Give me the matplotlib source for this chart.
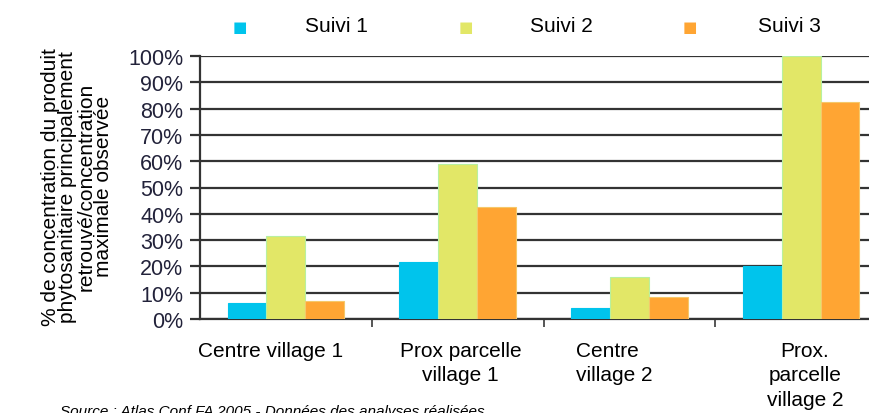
import numpy as np
import matplotlib.pyplot as plt
from matplotlib.ticker import FixedLocator, PercentFormatter
from matplotlib.transforms import ScaledTranslation

plt.rcParams['font.family'] = ['Liberation Sans', 'DejaVu Sans']

categories = ["Centre village 1", "Prox parcelle\nvillage 1", "Centre\nvillage 2",
              "Prox.\nparcelle\nvillage 2"]
series_names = ["Suivi 1", "Suivi 2", "Suivi 3"]
suivi_1 = [6.0, 21.5, 4.0, 20.0]
suivi_2 = [31.5, 59.0, 16.0, 100.0]
suivi_3 = [7.0, 42.5, 8.5, 82.5]
colors = ["#00C4EC", "#E2E767", "#FFA533"]
edges = ["#00C4EC", "#B8F0A0", "#F5C86A"]

fig = plt.figure(figsize=(8.69, 4.14), dpi=100)
ax = fig.add_axes([200 / 869, 1 - 320 / 414, 1 - 200 / 869, 263 / 414])

x = np.arange(len(categories))
w = 0.226
for k, (vals, name) in enumerate(zip([suivi_1, suivi_2, suivi_3], series_names)):
    ax.bar(x + (k - 1) * w, vals, width=w, color=colors[k], edgecolor=edges[k],
           linewidth=0.8, zorder=3, label=name)

ax.set_ylim(0, 100)
ax.set_xlim(-0.5, -0.5 + 669 / 171.75)
ax.set_yticks(np.arange(0, 101, 10))
ax.yaxis.set_major_formatter(PercentFormatter(decimals=0))
ax.grid(axis='y', color='#333333', linewidth=1.6, zorder=0)
ax.set_axisbelow(True)

for s in ['top', 'right']:
    ax.spines[s].set_visible(False)
ax.spines['left'].set_color('#333333')
ax.spines['left'].set_linewidth(1.6)
ax.spines['bottom'].set_color('#333333')
ax.spines['bottom'].set_linewidth(1.6)

ax.tick_params(axis='y', direction='out', length=7, width=1.6, color='#333333',
               labelsize=15.5, labelcolor='#22223a', pad=5)
ax.set_xticks(x)
ax.set_xticklabels(categories, fontsize=15, linespacing=1.35, va='top')
ax.tick_params(axis='x', which='major', length=0, pad=16)
ax.xaxis.set_minor_locator(FixedLocator(x[:-1] + 0.5))
ax.tick_params(axis='x', which='minor', direction='out', length=6, width=1.4,
               color='#555555')

# nudge category labels the way the original is laid out
label_shift = [-15, 3, -15, 4]
for lab, dx in zip(ax.get_xticklabels(), label_shift):
    lab.set_transform(lab.get_transform() + ScaledTranslation(dx / 100, 0, fig.dpi_scale_trans))
ax.get_xticklabels()[2].set_multialignment('left')

ax.set_ylabel("% de concentration du produit\nphytosanitaire principalement\n"
              "retrouvé/concentration\nmaximale observée",
              fontsize=15, linespacing=0.92)
ax.yaxis.set_label_coords(-0.13, 0.506)

# legend drawn as markers + text across the top
leg_marker_x = [240, 466, 690]
leg_text_x = [305, 530, 758]
for k in range(3):
    fig.text(leg_marker_x[k] / 869, 1 - 28 / 414, "■", color=colors[k],
             fontsize=11, ha='center', va='center', family='DejaVu Sans')
    fig.text(leg_text_x[k] / 869, 1 - 26 / 414, series_names[k], fontsize=15,
             ha='left', va='center')

fig.text(60 / 869, 9 / 414, "Source : Atlas Conf FA 2005 - Données des analyses réalisées",
         fontsize=11, style='italic', va='top', ha='left')

fig.savefig("out.png", dpi=100)
